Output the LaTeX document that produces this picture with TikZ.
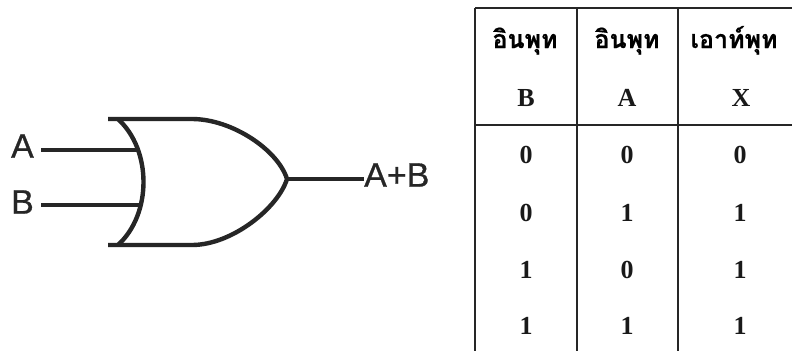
\documentclass[tikz,border=0pt]{standalone}
\usepackage{fontspec}
\setmainfont{Liberation Serif}
\newfontfamily\gatefont[FakeBold=0.8]{Liberation Sans}
\newfontfamily\thaifont[Script=Thai,FakeBold=0.5]{Loma}
\begin{document}
\begin{tikzpicture}[x=1pt,y=-1pt,
  wire/.style={line width=4.4pt,color=black!85},
  gatelabel/.style={font=\gatefont\fontsize{34}{34}\selectfont,inner sep=0pt,text=black!85},
  rule/.style={line width=1.4pt,color=black!85},
  headth/.style={font=\thaifont\bfseries\fontsize{25}{25}\selectfont,inner sep=0pt,anchor=base},
  cell/.style={font=\bfseries\fontsize{26}{26}\selectfont,inner sep=0pt,text=black!90}]
\useasboundingbox (0,0) rectangle (792,351);
\fill[white] (0,0) rectangle (792,351);

% --- OR gate ---
\coordinate (topL) at (108,119);
\coordinate (topR) at (192,119);
\coordinate (botL) at (108,245);
\coordinate (botR) at (192,245);
\coordinate (tip) at (287,179);
\draw[wire,line join=miter] (topL) -- (topR)
  .. controls (232,119) and (278,150) .. (tip)
  .. controls (278,208) and (232,245) .. (botR) -- (botL);
\draw[wire] (118,119) .. controls (152,150) and (152,214) .. (118,245);

% input and output leads
\node[gatelabel,anchor=east] (inA) at (34,146) {A};
\node[gatelabel,anchor=east] (inB) at (34,202) {B};
\coordinate (pinA) at (139,150);
\coordinate (pinB) at (139,205);
\draw[wire] (inA.east |- pinA) ++(7,0) -- (pinA);
\draw[wire] (inB.east |- pinB) ++(7,0) -- (pinB);
\node[gatelabel,anchor=west] (out) at (364,175) {A+B};
\draw[wire] (tip) -- (out.west |- tip);

% --- truth table ---
\draw[rule] (475,8) -- (792,8);
\draw[rule] (475,125) -- (792,125);
\draw[rule] (475,8) -- (475,351);
\draw[rule] (577,8) -- (577,351);
\draw[rule] (678,8) -- (678,351);

\node[headth] (h1) at (525,48) {อินพุท};
\node[headth] (h2) at (627,48) {อินพุท};
\node[headth] (h3) at (734,48) {เอาท์พุท};
\node[cell] (hB) at (526,98) {B};
\node[cell] (hA) at (627,98) {A};
\node[cell] (hX) at (741,98) {X};

\foreach \r/\yy/\b/\a/\x in {1/155/0/0/0, 2/213/0/1/1, 3/270/1/0/1, 4/326/1/1/1}{
  \node[cell] (b\r) at (526,\yy) {\b};
  \node[cell] (a\r) at (627,\yy) {\a};
  \node[cell] (x\r) at (740,\yy) {\x};
}
\end{tikzpicture}
\end{document}
